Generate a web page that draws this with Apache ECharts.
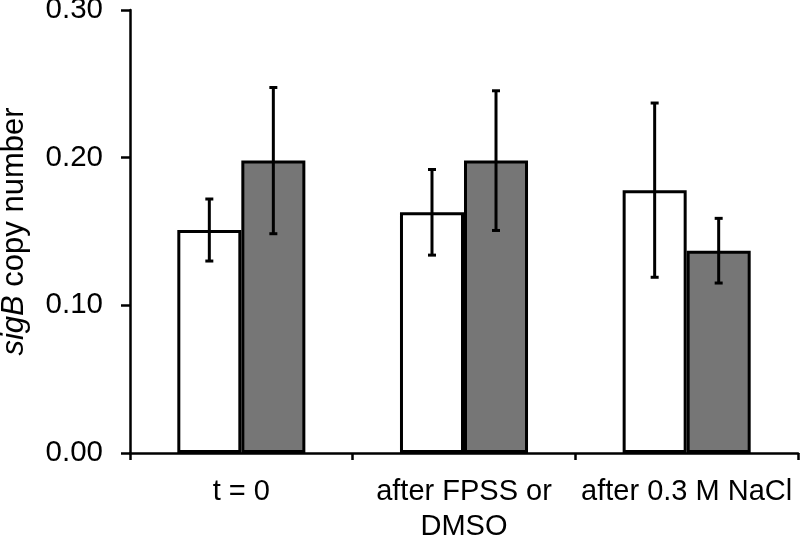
<!DOCTYPE html>
<html>
<head>
<meta charset="utf-8">
<script src="https://cdn.jsdelivr.net/npm/echarts@6/dist/echarts.min.js"></script>
<style>html,body{margin:0;padding:0;background:#fff;}#c{width:800px;height:536px;}</style>
</head>
<body>
<div id="c"></div>
<script>
const categories = ['t = 0', 'after FPSS or\nDMSO', 'after 0.3 M NaCl'];
const whiteValues = [0.151, 0.163, 0.178];
const whiteErrors = [0.021, 0.029, 0.059];
const grayValues = [0.198, 0.198, 0.137];
const grayErrors = [0.0495, 0.0473, 0.0219];
const yTicks = [0, 0.1, 0.2, 0.3];

const FONT = '"Liberation Sans", Arial, sans-serif';
const GAP = 0.425;

function errorSeries(values, errors, side) {
  return {
    type: 'custom',
    z: 10,
    data: values.map((v, i) => [i, v - errors[i], v + errors[i]]),
    renderItem: function (params, api) {
      const i = api.value(0);
      const catW = api.size([1, 0])[0];
      const bw = catW * (1 - GAP) / 2;
      const lo = api.coord([i, api.value(1)]);
      const hi = api.coord([i, api.value(2)]);
      const x = lo[0] + side * bw / 2;
      const cap = 4;
      const style = { stroke: '#000', lineWidth: 3 };
      return {
        type: 'group',
        children: [
          { type: 'line', shape: { x1: x, y1: lo[1], x2: x, y2: hi[1] }, style },
          { type: 'line', shape: { x1: x - cap, y1: lo[1], x2: x + cap, y2: lo[1] }, style },
          { type: 'line', shape: { x1: x - cap, y1: hi[1], x2: x + cap, y2: hi[1] }, style }
        ]
      };
    }
  };
}

const chart = echarts.init(document.getElementById('c'), null, { renderer: 'canvas' });
chart.setOption({
  animation: false,
  backgroundColor: '#fff',
  textStyle: { fontFamily: FONT },
  grid: { left: 130, right: 2, top: 10, bottom: 83, containLabel: false, outerBoundsMode: 'none' },
  xAxis: {
    type: 'category',
    data: categories,
    axisLine: { lineStyle: { color: '#000', width: 2.5 } },
    axisTick: { show: true, length: 7, lineStyle: { color: '#000', width: 2.5 } },
    axisLabel: { color: '#000', fontSize: 29, fontFamily: FONT, margin: 21, lineHeight: 35, interval: 0 },
    splitLine: { show: false }
  },
  yAxis: {
    type: 'value',
    min: 0, max: 0.3, interval: 0.1,
    name: '{i|sigB}{n| copy number}',
    nameLocation: 'middle',
    nameGap: 100,
    nameRotate: 90,
    nameTextStyle: {
      rich: {
        i: { fontStyle: 'italic', fontSize: 31, color: '#000', fontFamily: FONT },
        n: { fontSize: 31, color: '#000', fontFamily: FONT }
      }
    },
    axisLine: { show: true, lineStyle: { color: '#000', width: 2.5 } },
    axisTick: { show: true, length: 9, lineStyle: { color: '#000', width: 2.5 } },
    axisLabel: {
      color: '#000', fontSize: 29.5, fontFamily: FONT, margin: 27,
      formatter: v => yTicks.some(t => Math.abs(t - v) < 1e-9) ? v.toFixed(2) : ''
    },
    splitLine: { show: false }
  },
  series: [
    {
      type: 'bar', data: whiteValues, barGap: '0%', barCategoryGap: (GAP * 100) + '%',
      itemStyle: { color: '#ffffff', borderColor: '#000', borderWidth: 3 }
    },
    {
      type: 'bar', data: grayValues, barGap: '0%', barCategoryGap: (GAP * 100) + '%',
      itemStyle: { color: '#767676', borderColor: '#000', borderWidth: 3 }
    },
    errorSeries(whiteValues, whiteErrors, -1),
    errorSeries(grayValues, grayErrors, 1)
  ]
});
</script>
</body>
</html>
